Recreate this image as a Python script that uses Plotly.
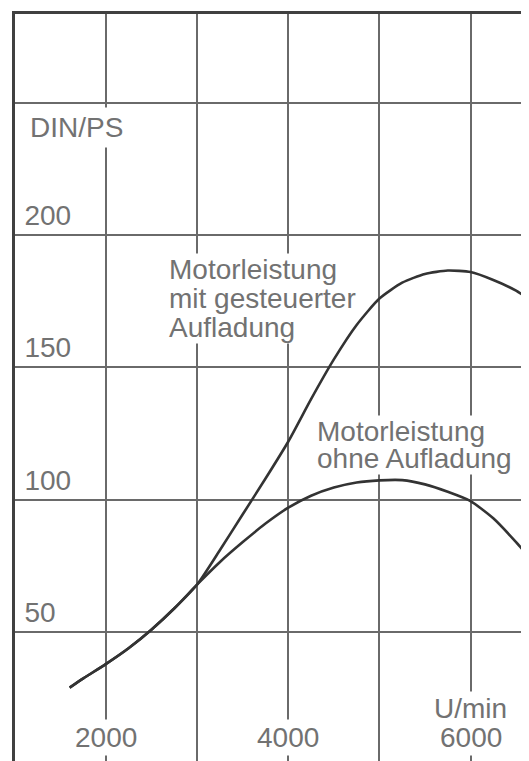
import plotly.graph_objects as go

# ---- data ----
rpm_boost = [1600, 1750, 2000, 2250, 2500, 2750, 3000, 3250, 3500, 3750, 4000, 4250, 4500,
             4750, 5000, 5250, 5500, 5750, 6000, 6250, 6500, 6650]
ps_boost = [29, 32.5, 38, 44, 51, 59, 68, 81, 94.5, 108, 122, 138, 153,
            166, 176, 182, 185.3, 186.6, 186, 183, 179, 175.5]

rpm_base = [1600, 1750, 2000, 2250, 2500, 2750, 3000, 3250, 3500, 3750, 4000, 4250, 4500,
            4750, 5000, 5250, 5500, 5750, 6000, 6250, 6500, 6650]
ps_base = [29, 32.5, 38, 44, 51, 59, 68, 76.5, 84, 91, 97, 101.5, 104.6,
           106.5, 107.3, 107.4, 105.8, 103, 99.5, 93, 84, 78]

x_grid = [1000, 2000, 3000, 4000, 5000, 6000]
x_tick_vals = [2000, 4000, 6000]
x_tick_text = ["2000", "4000", "6000"]
y_tick_vals = [50, 100, 150, 200, 250]
y_tick_text = ["50", "100", "150", "200", ""]
x_unit = "U/min"
y_unit = "DIN/PS"
label_boost = ["Motorleistung", "mit gesteuerter", "Aufladung"]
label_base = ["Motorleistung", "ohne Aufladung"]

FONT = "Liberation Sans, Arial, sans-serif"
TXT = "#727272"
LINE = "#333333"
GRID = "#6a6a6a"
FS = 28

fig = go.Figure()
for xs, ys in ((rpm_boost, ps_boost), (rpm_base, ps_base)):
    fig.add_trace(go.Scatter(x=xs, y=ys, mode="lines",
                             line=dict(color=LINE, width=2.6, shape="spline", smoothing=0.6),
                             showlegend=False, hoverinfo="skip"))

annotations = []
for v, t in zip(x_tick_vals, x_tick_text):
    annotations.append(dict(x=v, y=10.0, xref="x", yref="y", text=t, showarrow=False,
                            xanchor="center", yanchor="middle", bgcolor="white", borderpad=2,
                            font=dict(family=FONT, size=FS, color=TXT)))
annotations.append(dict(x=x_tick_vals[-1], y=21.3, xref="x", yref="y", text=x_unit, showarrow=False,
                        xanchor="center", yanchor="middle", bgcolor="white", borderpad=1,
                        font=dict(family=FONT, size=FS, color=TXT)))
annotations.append(dict(x=1110, y=240.8, xref="x", yref="y", text=y_unit, showarrow=False,
                        xanchor="left", yanchor="middle", bgcolor="white", borderpad=4,
                        font=dict(family=FONT, size=FS, color=TXT)))
# lower lines first so the upper line's box never hides a descender
for t, yv in reversed(list(zip(label_boost, [187.1, 176.2, 165.2]))):
    annotations.append(dict(x=2675, y=yv, xref="x", yref="y", text=t, showarrow=False,
                            xanchor="left", yanchor="middle", bgcolor="white", borderpad=0,
                            font=dict(family=FONT, size=FS, color=TXT)))
for t, yv in reversed(list(zip(label_base, [125.9, 115.4]))):
    annotations.append(dict(x=4300, y=yv, xref="x", yref="y", text=t, showarrow=False,
                            xanchor="left", yanchor="middle", bgcolor="white", borderpad=0,
                            font=dict(family=FONT, size=FS, color=TXT)))

fig.update_layout(
    width=521, height=753,
    margin=dict(l=7, r=0, t=6, b=0, pad=0),
    paper_bgcolor="white", plot_bgcolor="white",
    showlegend=False,
    annotations=annotations,
    xaxis=dict(range=[1000, 6642], tickvals=x_grid, showticklabels=False, ticks="",
               showgrid=True, gridcolor=GRID, gridwidth=1.5, zeroline=False,
               side="top", showline=True, linecolor="#404040", linewidth=2.5),
    yaxis=dict(range=[1.3, 283.5], tickvals=y_tick_vals, ticktext=y_tick_text, ticks="",
               ticklabelposition="inside", ticklabelshift=-20, ticklabelstandoff=12,
               tickfont=dict(family=FONT, size=FS, color=TXT),
               showgrid=True, gridcolor=GRID, gridwidth=1.5, zeroline=False,
               showline=True, linecolor="#404040", linewidth=3),
)

fig.write_html("out.html")
